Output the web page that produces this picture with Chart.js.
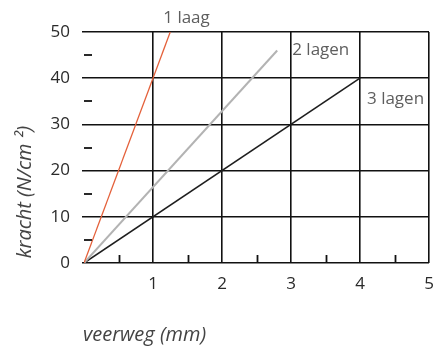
<!DOCTYPE html>
<html>
<head>
<meta charset="utf-8">
<script src="https://cdn.jsdelivr.net/npm/chart.js@4"></script>
<style>
  html, body { margin: 0; padding: 0; background: #fff; }
  #wrap { width: 433px; height: 351px; }
</style>
</head>
<body>
<div id="wrap"><canvas id="grafico"></canvas></div>
<script>
// veerweg (mm) tegen kracht (N/cm²) per aantal lagen

const namen = ["1 laag", "2 lagen", "3 lagen"];
const kleuren = ["#e4603a", "#b3b3b3", "#1e1e1e"];
const dikte = [1.3, 2, 1.6];

const veerweg1 = [0, 1.25];
const kracht1 = [0, 50];
const veerweg2 = [0, 2.8];
const kracht2 = [0, 46];
const veerweg3 = [0, 4];
const kracht3 = [0, 40];

const xTicks = [1, 2, 3, 4, 5];
const yTicks = [0, 10, 20, 30, 40, 50];

const punten = (xs, ys) => xs.map((x, i) => ({ x: x, y: ys[i] }));
const series = [punten(veerweg1, kracht1), punten(veerweg2, kracht2), punten(veerweg3, kracht3)];

const tekstKleur = "#5e5e5e";
const font = "Open Sans";

// kleine streepjes halverwege, labels bij de lijnen en de astitels
const extra = {
  id: "extra",
  afterDraw(chart) {
    const ctx = chart.ctx;
    const x = chart.scales.x;
    const y = chart.scales.y;
    const y0 = y.getPixelForValue(0);
    const x0 = x.getPixelForValue(0);
    ctx.save();
    ctx.strokeStyle = "#111";
    ctx.lineWidth = 1.8;
    for (let v = 0.5; v < 5; v += 1) {
      const px = Math.round(x.getPixelForValue(v)) + 0.5;
      ctx.beginPath();
      ctx.moveTo(px, y0);
      ctx.lineTo(px, y0 - 8);
      ctx.stroke();
    }
    for (let v = 5; v < 50; v += 10) {
      const py = Math.round(y.getPixelForValue(v));
      ctx.beginPath();
      ctx.moveTo(x0, py);
      ctx.lineTo(x0 + 8, py);
      ctx.stroke();
    }

    ctx.font = "17px '" + font + "'";
    ctx.fillStyle = tekstKleur;
    ctx.textBaseline = "middle";
    ctx.textAlign = "left";
    const offsets = [[-7, -14], [15, 0], [7, 21]];
    series.forEach((s, i) => {
      const eind = s[s.length - 1];
      ctx.fillText(namen[i],
        x.getPixelForValue(eind.x) + offsets[i][0],
        y.getPixelForValue(eind.y) + offsets[i][1]);
    });

    ctx.font = "italic 20px '" + font + "'";
    ctx.fillStyle = "#444";
    ctx.fillText("veerweg (mm)", x0 - 1, 335);

    ctx.translate(25, 192);
    ctx.rotate(-Math.PI / 2);
    ctx.textAlign = "center";
    ctx.fillText("kracht (N/cm ²)", 0, 0);
    ctx.restore();
  }
};

const config = {
  type: "scatter",
  data: {
    datasets: series.map((s, i) => ({
      label: namen[i],
      data: s,
      showLine: true,
      borderColor: kleuren[i],
      borderWidth: dikte[i],
      pointRadius: 0,
    })),
  },
  options: {
    responsive: true,
    maintainAspectRatio: false,
    animation: false,
    layout: { padding: { top: 32, right: 4, left: 0, bottom: 0 } },
    plugins: { legend: { display: false }, tooltip: { enabled: false } },
    scales: {
      x: {
        type: "linear",
        min: 0,
        max: 5,
        afterFit: (scale) => {
          scale.height = 88;
          scale.paddingLeft = 0;
          scale.paddingRight = 0;
        },
        afterBuildTicks: (scale) => { scale.ticks = [0].concat(xTicks).map((v) => ({ value: v })); },
        border: { display: false },
        grid: {
          color: (c) => (c.tick && c.tick.value === 0 ? "rgba(0,0,0,0)" : "#111"),
          lineWidth: 1.6,
          drawTicks: false,
        },
        ticks: {
          padding: 11,
          color: "#2a2a2a",
          font: { family: font, size: 17 },
          callback: (v) => (v === 0 ? "" : v),
        },
      },
      y: {
        type: "linear",
        min: 0,
        max: 50,
        afterFit: (scale) => {
          scale.width = 84;
          scale.paddingTop = 0;
          scale.paddingBottom = 0;
        },
        afterBuildTicks: (scale) => { scale.ticks = yTicks.map((v) => ({ value: v })); },
        border: { display: false },
        grid: { color: "#111", lineWidth: 1.6, drawTicks: true, tickLength: 2 },
        ticks: {
          padding: 12,
          color: "#2a2a2a",
          font: { family: font, size: 17 },
        },
      },
    },
  },
  plugins: [extra],
};

const grafico = new Chart(document.getElementById("grafico"), config);
</script>
</body>
</html>
